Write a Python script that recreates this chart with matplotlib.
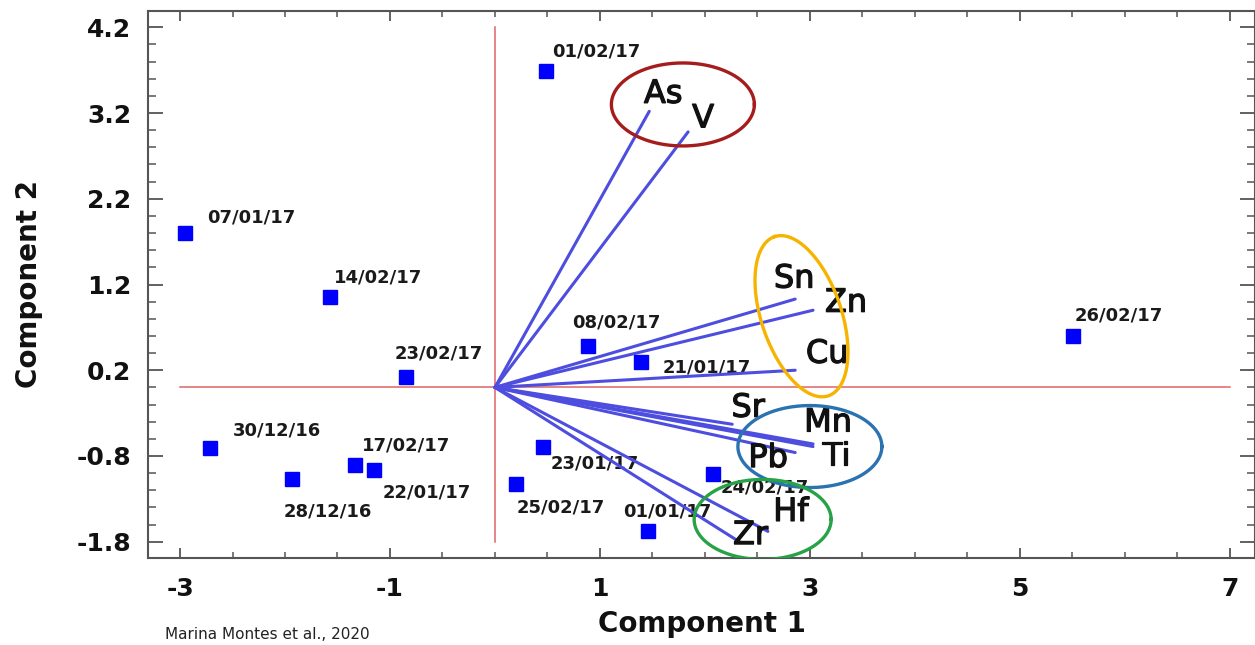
import numpy as np
import matplotlib.pyplot as plt
import matplotlib.patheffects as pe
from matplotlib.ticker import MultipleLocator

# sample scores on the two components
dates = ["07/01/17", "14/02/17", "01/02/17", "23/02/17", "30/12/16",
         "17/02/17", "22/01/17", "28/12/16", "08/02/17", "21/01/17",
         "23/01/17", "25/02/17", "01/01/17", "24/02/17", "26/02/17"]
pc1 = [-2.95, -1.57, 0.49, -0.85, -2.71, -1.33, -1.15, -1.93, 0.89, 1.39,
       0.46, 0.20, 1.46, 2.08, 5.51]
pc2 = [1.80, 1.06, 3.69, 0.12, -0.71, -0.90, -0.96, -1.07, 0.48, 0.30,
       -0.69, -1.13, -1.68, -1.01, 0.60]
# where each date label sits relative to its point (pixels)
date_offsets = [(22, 16), (4, 19), (6, 20), (-11, 24), (22, 18), (7, 19),
                (8, -23), (-9, -32), (-16, 24), (22, -6), (7, -17), (1, -23),
                (-25, 20), (7, -14), (1, 20)]

# element loadings (vector tips)
elements = ["As", "V", "Sn", "Zn", "Cu", "Sr", "Mn", "Ti", "Pb", "Hf", "Zr"]
load1 = [1.47, 1.84, 2.86, 3.03, 2.86, 2.26, 3.03, 3.03, 2.86, 2.60, 2.34]
load2 = [3.22, 2.98, 1.03, 0.90, 0.20, -0.43, -0.66, -0.69, -0.76, -1.68, -1.81]
elem_offsets = [(14, 17), (15, 13), (-1, 20), (33, 7), (32, 16), (16, 16),
                (15, 21), (23, -10), (-27, -6), (23, 19), (10, 7)]

# group ellipses: center (data), width/height (pixels), angle, colour
groups_center = [(1.79, 3.30), (2.92, 0.83), (3.00, -0.69), (2.55, -1.54)]
groups_size = [(143, 83), (168, 80), (144, 82), (137, 80)]
groups_angle = [0, 108.7, 0, 0]
groups_color = ["#a51c1c", "#f6b400", "#2a72b0", "#27a246"]

fig = plt.figure(figsize=(12.55, 6.45), dpi=100)
ax = fig.add_axes([148/1255, 1 - 558/645, 1 - 148/1255, (558 - 11)/645])
ax.set_xlim(-3.305, 7.24)
ax.set_ylim(-1.99, 4.39)

# red reference lines through the origin
ax.plot([-3, 7], [0, 0], color="#e06464", lw=1.1, zorder=1)
ax.plot([0, 0], [-1.8, 4.2], color="#e06464", lw=1.1, zorder=1)

# loading vectors
for x, y in zip(load1, load2):
    ax.plot([0, x], [0, y], color="#4d4ddf", lw=2.2, zorder=3,
            solid_capstyle="round")

# sample points and their labels
ax.plot(pc1, pc2, "s", color="#0000ff", ms=10.5, zorder=4, linestyle="none")
for d, x, y, off in zip(dates, pc1, pc2, date_offsets):
    ax.annotate(d, (x, y), xytext=off, textcoords="offset pixels",
                ha="left", va="center", fontsize=13, fontweight="bold",
                color="#1a1a1a", zorder=2)

for e, x, y, off in zip(elements, load1, load2, elem_offsets):
    ax.annotate(e, (x, y), xytext=off, textcoords="offset pixels",
                ha="center", va="center", fontsize=23, color="#111111",
                zorder=5,
                path_effects=[pe.withStroke(linewidth=0.9,
                                            foreground="#111111")])

# ellipses drawn in pixel units so the rotated one keeps its shape
fig.canvas.draw()
p0 = ax.transData.transform((0, 0))
p1 = ax.transData.transform((1, 1))
sx, sy = p1[0] - p0[0], p1[1] - p0[1]
t = np.linspace(0, 2*np.pi, 300)
for (cx, cy), (w, h), ang, col in zip(groups_center, groups_size,
                                      groups_angle, groups_color):
    u = w/2*np.cos(t)
    v = h/2*np.sin(t)
    a = np.deg2rad(ang)
    xs = cx + (u*np.cos(a) - v*np.sin(a))/sx
    ys = cy + (u*np.sin(a) + v*np.cos(a))/sy
    ax.plot(xs, ys, color=col, lw=2.4, zorder=6)

# axes styling
ax.set_xticks([-3, -1, 1, 3, 5, 7])
ax.set_yticks([-1.8, -0.8, 0.2, 1.2, 2.2, 3.2, 4.2])
ax.set_yticklabels(["-1.8", "-0.8", "0.2", "1.2", "2.2", "3.2", "4.2"])
ax.set_xticklabels(["-3", "-1", "1", "3", "5", "7"])
ax.yaxis.set_minor_locator(MultipleLocator(0.2))
ax.xaxis.set_minor_locator(MultipleLocator(0.5))
ax.tick_params(axis="x", which="major", direction="in", length=7, width=1.3,
               top=True, labelsize=18, pad=14, colors="#555555",
               labelcolor="#111111")
ax.tick_params(axis="x", which="minor", direction="in", length=4, width=1.1,
               top=True, colors="#555555")
ax.tick_params(axis="y", which="major", direction="in", length=11, width=1.3,
               right=True, labelsize=18, pad=12, colors="#555555",
               labelcolor="#111111")
ax.tick_params(axis="y", which="minor", direction="in", length=5.5, width=1.1,
               right=True, colors="#555555")
for lab in ax.get_xticklabels() + ax.get_yticklabels():
    lab.set_fontweight("bold")
for sp in ax.spines.values():
    sp.set_color("#555555")
    sp.set_linewidth(1.5)

ax.set_xlabel("Component 1", fontsize=20, fontweight="bold", color="#111111",
              labelpad=6)
ax.set_ylabel("Component 2", fontsize=20, fontweight="bold", color="#111111",
              labelpad=24)

fig.text(165/1255, 1 - 627/645, "Marina Montes et al., 2020", fontsize=11,
         va="top", ha="left", color="#222222")

fig.savefig("out.png", dpi=100)
